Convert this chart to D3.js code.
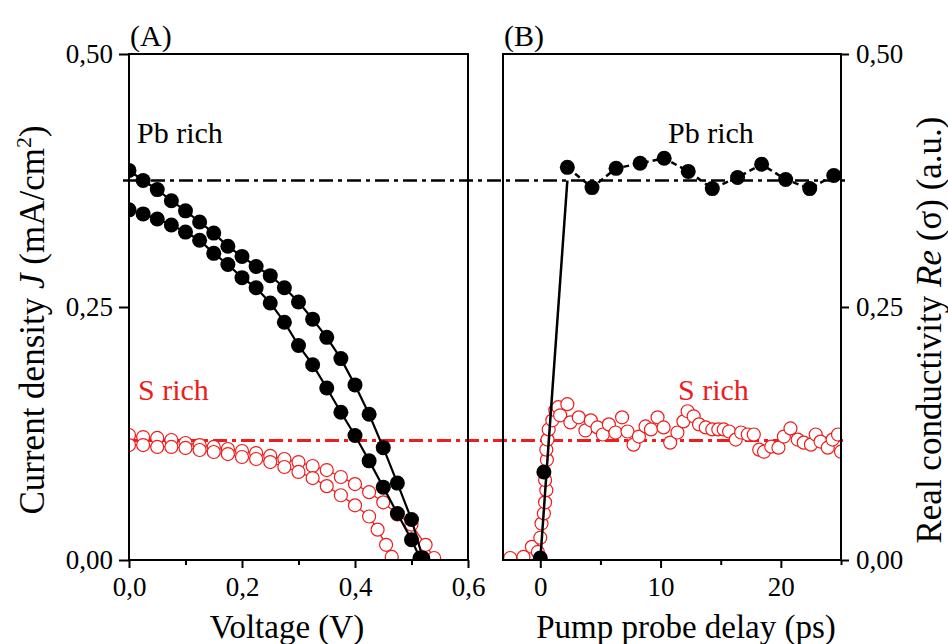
<!DOCTYPE html>
<html>
<head>
<meta charset="utf-8">
<script src="https://cdn.jsdelivr.net/npm/d3@7"></script>
<style>
  body { margin: 0; background: #fff; }
  svg { display: block; font-family: "Liberation Serif", "Times New Roman", serif; }
</style>
</head>
<body>
<svg id="chart" width="948" height="644"></svg>
<script>
// ---- data ----

// (A) J-V curves, Pb rich (two scans) and S rich (two scans)
const pbVoltage1 = [0, 0.025, 0.05, 0.075, 0.1, 0.125, 0.15, 0.175, 0.2, 0.225, 0.25, 0.275, 0.3, 0.325, 0.35, 0.375, 0.4, 0.425, 0.45, 0.475, 0.5, 0.52];
const pbCurrent1 = [0.385, 0.375, 0.366, 0.355, 0.345, 0.334, 0.323, 0.310, 0.300, 0.290, 0.281, 0.269, 0.255, 0.238, 0.220, 0.199, 0.173, 0.144, 0.111, 0.076, 0.040, 0.002];
const pbVoltage2 = [0, 0.025, 0.05, 0.075, 0.1, 0.125, 0.15, 0.175, 0.2, 0.225, 0.25, 0.275, 0.3, 0.325, 0.35, 0.375, 0.4, 0.425, 0.45, 0.475, 0.5, 0.515];
const pbCurrent2 = [0.346, 0.342, 0.337, 0.331, 0.324, 0.316, 0.303, 0.292, 0.279, 0.269, 0.254, 0.235, 0.212, 0.193, 0.170, 0.146, 0.123, 0.098, 0.072, 0.046, 0.020, 0.002];
const sVoltage1 = [0, 0.025, 0.05, 0.075, 0.1, 0.125, 0.15, 0.175, 0.2, 0.225, 0.25, 0.275, 0.3, 0.325, 0.35, 0.375, 0.4, 0.425, 0.45, 0.475, 0.5, 0.525, 0.54];
const sCurrent1 = [0.1235, 0.1215, 0.1206, 0.1186, 0.1156, 0.1136, 0.1117, 0.1097, 0.1077, 0.1057, 0.1028, 0.0998, 0.0968, 0.0929, 0.0889, 0.082, 0.075, 0.067, 0.057, 0.045, 0.035, 0.015, 0.002];
const sVoltage2 = [0, 0.025, 0.05, 0.075, 0.1, 0.125, 0.15, 0.175, 0.2, 0.225, 0.25, 0.275, 0.3, 0.325, 0.35, 0.375, 0.4, 0.425, 0.44, 0.455, 0.465];
const sCurrent2 = [0.1136, 0.1136, 0.1117, 0.1117, 0.1107, 0.1087, 0.1067, 0.1047, 0.1018, 0.0998, 0.0968, 0.0919, 0.087, 0.081, 0.073, 0.064, 0.054, 0.043, 0.030, 0.015, 0.003];

// (B) THz photoconductivity vs pump probe delay
const thzPbDelay = [0, 0.3, 2.25, 4.3, 6.3, 8.3, 10.3, 12.3, 14.3, 16.4, 18.4, 20.4, 22.4, 24.4];
const thzPbSignal = [0.002, 0.087, 0.388, 0.368, 0.387, 0.392, 0.397, 0.384, 0.367, 0.378, 0.391, 0.376, 0.367, 0.380];
const thzSDelay = [-2.5, -1.4, -0.7, -0.2, 0.0, 0.1, 0.3, 0.4, 0.5, 0.4, 0.55, 0.5, 0.6, 0.7, 1.0, 1.25, 1.5, 2.25, 1.65, 2.5, 3.2, 3.75, 4.2, 4.75, 5.2, 5.7, 6.25, 6.8, 7.25, 7.75, 8.2, 8.75, 9.2, 9.75, 10.25, 10.8, 11.4, 11.9, 12.25, 12.75, 13.2, 13.75, 14.3, 14.8, 15.25, 15.7, 16.25, 16.7, 17.25, 17.75, 18.2, 18.6, 19.2, 19.8, 20.25, 20.8, 21.4, 21.9, 22.5, 22.9, 23.3, 23.9, 24.3, 24.75, 25.0];
const thzSSignal = [0.002, 0.003, 0.013, 0.008, 0.022, 0.036, 0.046, 0.057, 0.069, 0.079, 0.099, 0.109, 0.119, 0.129, 0.138, 0.148, 0.151, 0.154, 0.143, 0.136, 0.141, 0.128, 0.138, 0.131, 0.124, 0.134, 0.126, 0.141, 0.127, 0.114, 0.122, 0.132, 0.129, 0.141, 0.131, 0.116, 0.126, 0.137, 0.147, 0.142, 0.134, 0.131, 0.129, 0.129, 0.129, 0.127, 0.119, 0.126, 0.124, 0.124, 0.109, 0.107, 0.112, 0.111, 0.122, 0.130, 0.119, 0.116, 0.114, 0.124, 0.117, 0.111, 0.119, 0.124, 0.107];

// linear rise fit of the Pb rich transient and the plateau levels
const pbRiseDelay = [0, 2.25];
const pbRiseSignal = [0, 0.375];
const pbPlateau = 0.375;
const sPlateau = 0.118;

const yTicks = [0, 0.25, 0.5];
const voltageTicks = [0, 0.2, 0.4, 0.6];
const voltageMinorTicks = [0.1, 0.3, 0.5];
const delayTicks = [0, 10, 20];
const delayMinorTicks = [5, 15, 25];

// ---- drawing ----
const red = "#ee1c1c";
const commaFormat = f => (d => d3.format(f)(d).replace(".", ","));
const zip = (xs, ys) => xs.map((x, i) => [x, ys[i]]);

const svg = d3.select("#chart");

const panelA = { left: 129, right: 468 };
const panelB = { left: 503, right: 841 };
const plotTop = 54, plotBottom = 560;

const y = d3.scaleLinear().domain([0, 0.5]).range([plotBottom, plotTop]);
const xA = d3.scaleLinear().domain([0, 0.6]).range([panelA.left, panelA.right]);
const xB = d3.scaleLinear().domain([-3.1, 25]).range([panelB.left, panelB.right]);

// clip each panel to its frame
const defs = svg.append("defs");
[["clipA", panelA], ["clipB", panelB]].forEach(([id, p]) => {
  defs.append("clipPath").attr("id", id)
    .append("rect")
      .attr("x", p.left).attr("y", plotTop)
      .attr("width", p.right - p.left).attr("height", plotBottom - plotTop);
});

// plateau dash-dot lines run across both panels
svg.append("line")
    .attr("x1", 123).attr("x2", 845)
    .attr("y1", y(pbPlateau)).attr("y2", y(pbPlateau))
    .attr("stroke", "#000").attr("stroke-width", 2.5)
    .attr("stroke-dasharray", "14,5,4,5");

svg.append("line")
    .attr("x1", panelA.left).attr("x2", 845)
    .attr("y1", y(sPlateau)).attr("y2", y(sPlateau))
    .attr("stroke", red).attr("stroke-width", 3)
    .attr("stroke-dasharray", "14,5,4,5");

function drawSeries(g, x, pts, opts) {
  if (opts.line) {
    g.append("path")
        .datum(pts)
        .attr("fill", "none")
        .attr("stroke", opts.lineColor)
        .attr("stroke-width", opts.lineWidth)
        .attr("stroke-dasharray", opts.dash || null)
        .attr("d", d3.line().x(d => x(d[0])).y(d => y(d[1])));
  }
  if (opts.marker) {
    g.selectAll(null)
      .data(pts)
      .join("circle")
        .attr("cx", d => x(d[0]))
        .attr("cy", d => y(d[1]))
        .attr("r", opts.r)
        .attr("fill", opts.fill)
        .attr("stroke", opts.stroke)
        .attr("stroke-width", opts.strokeWidth);
  }
}

// ---- panel A ----
const gA = svg.append("g").attr("clip-path", "url(#clipA)");

[[sVoltage1, sCurrent1], [sVoltage2, sCurrent2]].forEach(([v, j]) => {
  drawSeries(gA, xA, zip(v, j), { line: true, lineColor: red, lineWidth: 1.3,
    marker: true, r: 6.5, fill: "#fff", stroke: red, strokeWidth: 1.2 });
});
[[pbVoltage1, pbCurrent1], [pbVoltage2, pbCurrent2]].forEach(([v, j]) => {
  drawSeries(gA, xA, zip(v, j), { line: true, lineColor: "#000", lineWidth: 2.2,
    marker: true, r: 7.5, fill: "#000", stroke: "none", strokeWidth: 0 });
});

// ---- panel B ----
const gB = svg.append("g").attr("clip-path", "url(#clipB)");

drawSeries(gB, xB, zip(thzSDelay, thzSSignal), { marker: true, r: 6.5,
  fill: "#fff", stroke: red, strokeWidth: 1.2 });
drawSeries(gB, xB, zip(thzPbDelay.slice(2), thzPbSignal.slice(2)), { line: true,
  lineColor: "#000", lineWidth: 2.5, dash: "6,4" });
drawSeries(gB, xB, zip(pbRiseDelay, pbRiseSignal), { line: true,
  lineColor: "#000", lineWidth: 2.5 });
drawSeries(gB, xB, zip(thzPbDelay, thzPbSignal), { marker: true, r: 7.5,
  fill: "#000", stroke: "none", strokeWidth: 0 });

// ---- frames and axes ----
[panelA, panelB].forEach(p => {
  svg.append("rect")
      .attr("x", p.left).attr("y", plotTop)
      .attr("width", p.right - p.left).attr("height", plotBottom - plotTop)
      .attr("fill", "none").attr("stroke", "#000").attr("stroke-width", 2);
});

function styleAxis(g, size) {
  g.select(".domain").remove();
  g.selectAll("line").attr("stroke", "#000").attr("stroke-width", 2);
  g.selectAll("text")
      .attr("fill", "#000")
      .style("font-family", "'Liberation Serif', 'Times New Roman', serif")
      .style("font-size", size + "px");
}

svg.append("g")
    .attr("transform", `translate(0,${plotBottom})`)
    .call(d3.axisBottom(xA).tickValues(voltageTicks).tickFormat(commaFormat(".1f")).tickSize(8).tickPadding(9))
    .call(g => styleAxis(g, 27));
svg.append("g")
    .attr("transform", `translate(0,${plotBottom})`)
    .call(d3.axisBottom(xA).tickValues(voltageMinorTicks).tickFormat("").tickSize(5))
    .call(g => styleAxis(g, 27));

svg.append("g")
    .attr("transform", `translate(0,${plotBottom})`)
    .call(d3.axisBottom(xB).tickValues(delayTicks).tickFormat(d3.format("d")).tickSize(8).tickPadding(9))
    .call(g => styleAxis(g, 27));
svg.append("g")
    .attr("transform", `translate(0,${plotBottom})`)
    .call(d3.axisBottom(xB).tickValues(delayMinorTicks).tickFormat("").tickSize(5))
    .call(g => styleAxis(g, 27));

svg.append("g")
    .attr("transform", `translate(${panelA.left},0)`)
    .call(d3.axisLeft(y).tickValues(yTicks).tickFormat(commaFormat(".2f")).tickSize(10).tickPadding(6))
    .call(g => styleAxis(g, 27));

svg.append("g")
    .attr("transform", `translate(${panelB.right},0)`)
    .call(d3.axisRight(y).tickValues(yTicks).tickFormat(commaFormat(".2f")).tickSize(8).tickPadding(7))
    .call(g => styleAxis(g, 27));

// ---- labels ----
const label = (x, yy, text, size, color, anchor) =>
  svg.append("text")
      .attr("x", x).attr("y", yy)
      .attr("font-size", size)
      .attr("fill", color || "#000")
      .attr("text-anchor", anchor || "start")
      .text(text);

label(130, 46, "(A)", 30);
label(504, 46, "(B)", 30);
label(137, 143, "Pb rich", 30);
label(668, 143, "Pb rich", 30);
label(138, 400, "S rich", 30, red);
label(678, 400, "S rich", 30, red);

label(287, 638, "Voltage (V)", 33, "#000", "middle");
label(686, 638, "Pump probe delay (ps)", 33, "#000", "middle");

const yTitleLeft = svg.append("text")
    .attr("transform", "translate(44,320) rotate(-90)")
    .attr("text-anchor", "middle")
    .attr("font-size", 35);
yTitleLeft.append("tspan").text("Current density ");
yTitleLeft.append("tspan").attr("font-style", "italic").text("J");
yTitleLeft.append("tspan").text(" (mA/cm");
yTitleLeft.append("tspan").attr("font-size", 22).attr("dy", -13).text("2");
yTitleLeft.append("tspan").attr("dy", 13).text(")");

const yTitleRight = svg.append("text")
    .attr("transform", "translate(941,330) rotate(-90)")
    .attr("text-anchor", "middle")
    .attr("font-size", 35);
yTitleRight.append("tspan").text("Real conductivity ");
yTitleRight.append("tspan").attr("font-style", "italic").text("Re");
yTitleRight.append("tspan").text(" (σ) (a.u.)");
</script>
</body>
</html>
